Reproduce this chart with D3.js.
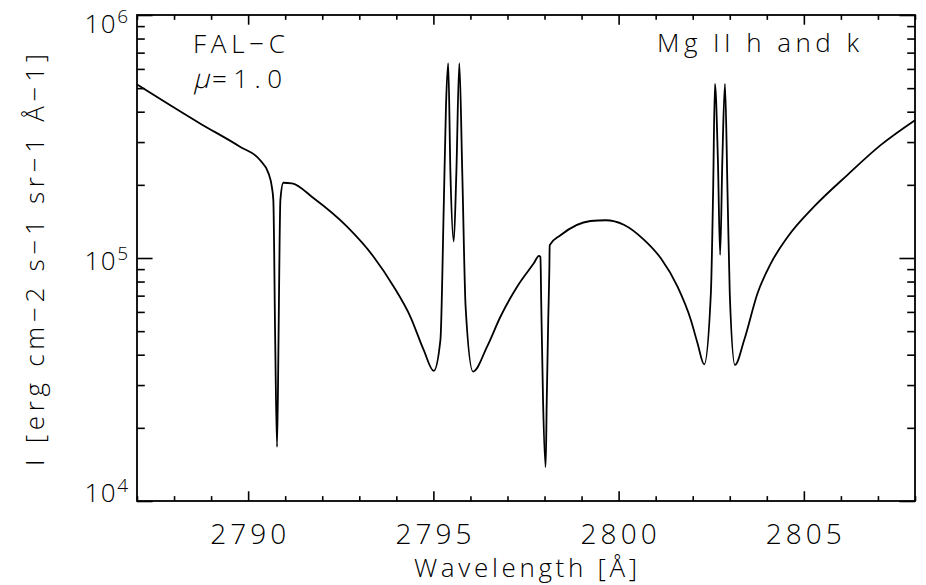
<!DOCTYPE html>
<html>
<head>
<meta charset="utf-8">
<script src="https://cdn.jsdelivr.net/npm/d3@7"></script>
<style>
  body { margin: 0; background: #fff; }
  svg text { font-family: "Open Sans", "DejaVu Sans", sans-serif; font-weight: 300; fill: #000; }
</style>
</head>
<body>
<svg id="chart" width="926" height="585"></svg>
<script>
// Emergent intensity, FAL-C model, disk centre, around the Mg II h & k lines
const wavelength = [
  2787.00, 2788.70, 2789.78, 2790.32, 2790.55, 2790.64, 2790.68, 2790.73, 2790.78, 2790.82,
  2790.85, 2790.87, 2790.95, 2791.18, 2791.77, 2792.67, 2793.39, 2793.93, 2794.38, 2794.74,
  2795.01, 2795.19, 2795.28, 2795.34, 2795.40, 2795.46, 2795.55, 2795.62, 2795.70, 2795.78,
  2795.87, 2796.07, 2796.45, 2796.81, 2797.26, 2797.71, 2797.85, 2797.89, 2797.91, 2797.96,
  2798.03, 2798.06, 2798.10, 2798.13, 2798.14, 2798.43, 2799.24, 2799.65, 2800.14, 2800.68,
  2801.14, 2801.59, 2801.95, 2802.13, 2802.31, 2802.49, 2802.55, 2802.60, 2802.68, 2802.74,
  2802.80, 2802.87, 2802.94, 2803.00, 2803.14, 2803.39, 2803.75, 2804.11, 2804.56, 2805.28,
  2806.18, 2807.08, 2808.00
];
const intensity = [
  5.18e5, 3.58e5, 2.87e5, 2.53e5, 2.23e5, 1.96e5, 1.73e5, 4.6e4, 1.67e4, 4.6e4,
  1.19e5, 1.73e5, 2.04e5, 2.03e5, 1.76e5, 1.345e5, 1.01e5, 7.62e4, 5.73e4, 4.18e4,
  3.43e4, 4.6e4, 1.63e5, 4.19e5, 6.33e5, 2.24e5, 1.17e5, 2.24e5, 6.33e5, 2.24e5,
  6.3e4, 3.41e4, 4.32e4, 5.73e4, 7.62e4, 9.51e4, 1.02e5, 1.01e5, 6.7e4, 2.6e4,
  1.38e4, 2.6e4, 5.56e4, 8.93e4, 1.13e5, 1.24e5, 1.42e5, 1.43e5, 1.37e5, 1.19e5,
  9.97e4, 7.62e4, 5.56e4, 4.46e4, 3.65e4, 7.16e4, 1.85e5, 5.2e5, 2.53e5, 1.03e5,
  2.53e5, 5.2e5, 1.85e5, 7.16e4, 3.63e4, 4.6e4, 7.16e4, 9.51e4, 1.22e5, 1.63e5,
  2.2e5, 2.92e5, 3.69e5
];

const xDomain = [2787, 2808];
const xMajorTicks = [2790, 2795, 2800, 2805];
const yDomain = [1e4, 1e6];
const yMajorTicks = [1e4, 1e5, 1e6];
const yTickExponents = ["4", "5", "6"];

const xTitle = "Wavelength [Å]";
const yTitle = "I [erg cm−2 s−1 sr−1 Å−1]";
const modelLabel = "FAL−C";
const muLabel = "=1.0";
const lineLabel = "Mg II h and k";

const W = 926, H = 585;
const m = { left: 137, right: 11, top: 15, bottom: 84 };
const x0 = m.left, x1 = W - m.right, y0 = m.top, y1 = H - m.bottom;

const svg = d3.select("#chart");
const x = d3.scaleLinear().domain(xDomain).range([x0, x1]);
const y = d3.scaleLog().domain(yDomain).range([y1, y0]);

// tick lengths scale with the plot box, minor ticks half length
const xMajLen = 0.02 * (y1 - y0), yMajLen = 0.02 * (x1 - x0);
const xMinor = d3.range(Math.ceil(xDomain[0]), xDomain[1] + 0.001, 1).filter(v => !xMajorTicks.includes(v));
const yMinor = [];
for (let d = 1e4; d < 1e6; d *= 10) for (let k = 2; k <= 9; k++) yMinor.push(d * k);

const axisStyle = g => {
  g.select(".domain").remove();
  g.selectAll(".tick line").attr("stroke", "#000").attr("stroke-width", 1.6);
  g.selectAll(".tick text").remove();
};

// bottom / top ticks (pointing inwards)
[[d3.axisBottom, y1], [d3.axisTop, y0]].forEach(([fn, ty]) => {
  svg.append("g").attr("transform", `translate(0,${ty})`)
    .call(fn(x).tickValues(xMajorTicks).tickSize(-xMajLen)).call(axisStyle);
  svg.append("g").attr("transform", `translate(0,${ty})`)
    .call(fn(x).tickValues(xMinor).tickSize(-xMajLen / 2)).call(axisStyle);
});
// left / right ticks
[[d3.axisLeft, x0], [d3.axisRight, x1]].forEach(([fn, tx]) => {
  svg.append("g").attr("transform", `translate(${tx},0)`)
    .call(fn(y).tickValues(yMajorTicks).tickSize(-yMajLen)).call(axisStyle);
  svg.append("g").attr("transform", `translate(${tx},0)`)
    .call(fn(y).tickValues(yMinor).tickSize(-yMajLen / 2)).call(axisStyle);
});

// plot frame
svg.append("rect").attr("x", x0).attr("y", y0).attr("width", x1 - x0).attr("height", y1 - y0)
  .attr("fill", "none").attr("stroke", "#000").attr("stroke-width", 1.8);

// x tick labels
svg.append("g").selectAll("text").data(xMajorTicks).join("text")
  .attr("x", d => x(d)).attr("y", y1 + 43)
  .attr("text-anchor", "middle").attr("font-size", 28)
  .attr("textLength", 76).attr("lengthAdjust", "spacing")
  .text(d => d);

// y tick labels, 10^n, kept inside the vertical extent of the axis
yMajorTicks.forEach((v, i) => {
  const base = Math.max(y0 + 18.3, Math.min(y1 + 0.7, y(v) + 12));
  const t = svg.append("text").attr("x", 128).attr("y", base)
    .attr("text-anchor", "end").attr("font-size", 26);
  t.append("tspan").attr("letter-spacing", 1.5).text("10");
  t.append("tspan").attr("dy", -10).attr("font-size", 19).text(yTickExponents[i]);
});

// axis titles
svg.append("text").attr("x", (x0 + x1) / 2 - 0.5).attr("y", 577)
  .attr("text-anchor", "middle").attr("font-size", 26)
  .attr("textLength", 223).attr("lengthAdjust", "spacing").text(xTitle);
svg.append("text").attr("transform", "translate(43.5,260) rotate(-90)")
  .attr("text-anchor", "middle").attr("font-size", 26)
  .attr("textLength", 412).attr("lengthAdjust", "spacing").text(yTitle);

// annotations
svg.append("text").attr("x", 193).attr("y", 53).attr("font-size", 26)
  .attr("textLength", 92).attr("lengthAdjust", "spacing").text(modelLabel);
svg.append("text").attr("transform", "translate(193,88) skewX(-14)").attr("font-size", 27)
  .text("μ");
svg.append("text").attr("x", 212).attr("y", 88).attr("font-size", 26)
  .attr("textLength", 70).attr("lengthAdjust", "spacing").text(muLabel);
svg.append("text").attr("x", 657).attr("y", 52).attr("font-size", 26)
  .attr("textLength", 202).attr("lengthAdjust", "spacing").text(lineLabel);

// spectrum
const pts = wavelength.map((w, i) => [w, intensity[i]]);
svg.append("path").datum(pts)
  .attr("fill", "none").attr("stroke", "#000").attr("stroke-width", 1.8)
  .attr("stroke-linejoin", "round")
  .attr("d", d3.line().x(d => x(d[0])).y(d => y(d[1])).curve(d3.curveMonotoneX));
</script>
</body>
</html>
